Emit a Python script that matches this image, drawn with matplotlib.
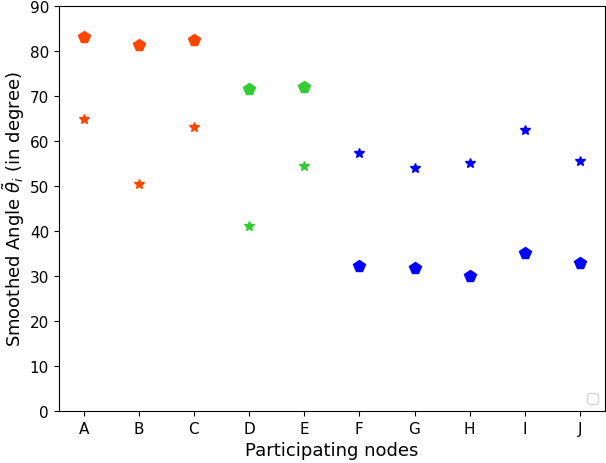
import matplotlib
matplotlib.use('Agg')
import matplotlib.pyplot as plt

nodes = ['A', 'B', 'C', 'D', 'E', 'F', 'G', 'H', 'I', 'J']
pent_vals = [83.2, 81.3, 82.5, 71.6, 72.1, 32.2, 31.7, 30.0, 35.1, 32.8]
star_vals = [64.8, 50.4, 63.1, 41.2, 54.5, 57.3, 54.0, 55.0, 62.4, 55.6]
colors = ['orangered'] * 3 + ['limegreen'] * 2 + ['blue'] * 5

fig, ax = plt.subplots(figsize=(6.06, 4.64), dpi=100)
for i, n in enumerate(nodes):
    ax.plot(n, pent_vals[i], 'p', color=colors[i], markersize=8.5)
    ax.plot(n, star_vals[i], '*', color=colors[i], markersize=7.5)

ax.set_ylim(0, 90)
ax.set_xlabel('Participating nodes', fontsize=13)
ax.set_ylabel(r'Smoothed Angle $\tilde{\theta}_i$ (in degree)', fontsize=13, labelpad=2)
ax.tick_params(labelsize=11)
ax.legend(handles=[], loc='lower right')
fig.subplots_adjust(left=0.097, right=0.998, top=0.985, bottom=0.112)
fig.savefig('out.png', dpi=100)
